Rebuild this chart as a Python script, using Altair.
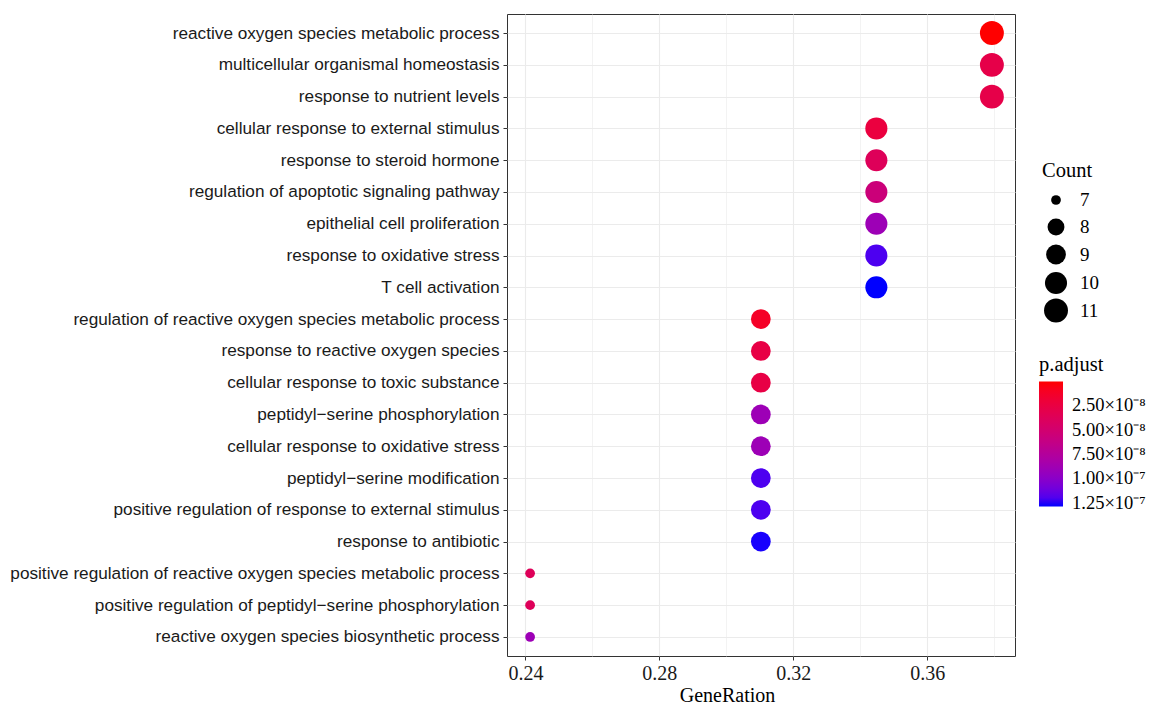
import altair as alt
import pandas as pd

terms = [
    "reactive oxygen species metabolic process",
    "multicellular organismal homeostasis",
    "response to nutrient levels",
    "cellular response to external stimulus",
    "response to steroid hormone",
    "regulation of apoptotic signaling pathway",
    "epithelial cell proliferation",
    "response to oxidative stress",
    "T cell activation",
    "regulation of reactive oxygen species metabolic process",
    "response to reactive oxygen species",
    "cellular response to toxic substance",
    "peptidyl\u2212serine phosphorylation",
    "cellular response to oxidative stress",
    "peptidyl\u2212serine modification",
    "positive regulation of response to external stimulus",
    "response to antibiotic",
    "positive regulation of reactive oxygen species metabolic process",
    "positive regulation of peptidyl\u2212serine phosphorylation",
    "reactive oxygen species biosynthetic process",
]
gene_ratio = [0.3793, 0.3793, 0.3793, 0.3448, 0.3448, 0.3448, 0.3448, 0.3448, 0.3448,
              0.3103, 0.3103, 0.3103, 0.3103, 0.3103, 0.3103, 0.3103, 0.3103,
              0.2414, 0.2414, 0.2414]
counts = [11, 11, 11, 10, 10, 10, 10, 10, 10, 9, 9, 9, 9, 9, 9, 9, 9, 7, 7, 7]
p_adjust = [4.0e-10, 2.9e-8, 2.9e-8, 2.4e-8, 3.8e-8, 5.6e-8, 9.0e-8, 1.21e-7, 1.29e-7,
            1.2e-8, 2.7e-8, 2.7e-8, 9.0e-8, 9.0e-8, 1.21e-7, 1.21e-7, 1.28e-7,
            3.8e-8, 3.8e-8, 9.0e-8]

x_ticks = [0.24, 0.26, 0.28, 0.30, 0.32, 0.34, 0.36, 0.38]
x_domain = [0.2345, 0.3862]
count_levels = [7, 8, 9, 10, 11]
count_areas = [95, 284, 391, 487, 573]
padj_ticks = [2.5e-8, 5.0e-8, 7.5e-8, 1.0e-7, 1.25e-7]
# listed high -> low so that the vertical colour bar runs red (low) at top to blue (high) at bottom
padj_domain = [1.29e-7, 4.0e-10]
padj_colors = ["#0000FF", "#FF0000"]

df = pd.DataFrame({
    "Description": terms,
    "GeneRatio": gene_ratio,
    "Count": counts,
    "padj": p_adjust,
})

minor_test = "round(datum.value * 100) % 4 == 2"

chart = (
    alt.Chart(df)
    .mark_circle(opacity=1)
    .encode(
        x=alt.X(
            "GeneRatio:Q",
            scale=alt.Scale(domain=x_domain, nice=False, zero=False),
            axis=alt.Axis(
                title="GeneRation",
                values=x_ticks,
                format=".2f",
                labelExpr=f"({minor_test}) ? '' : format(datum.value, '.2f')",
                tickOpacity={"condition": {"test": minor_test, "value": 0}, "value": 1},
                gridWidth={"condition": {"test": minor_test, "value": 0.6}, "value": 1.1},
                titlePadding=2,
                titleX=220,
                titleAlign="center",
                labelPadding=3,
            ),
        ),
        y=alt.Y(
            "Description:N",
            sort=terms,
            scale=alt.Scale(type="point", padding=0.6),
            axis=alt.Axis(
                title=None,
                labelFont="Liberation Sans",
                labelFontSize=17.2,
                labelColor="#1a1a1a",
                labelPadding=4,
                labelLimit=0,
            ),
        ),
        size=alt.Size(
            "Count:Q",
            scale=alt.Scale(domain=count_levels, range=count_areas),
            legend=alt.Legend(
                title="Count",
                values=count_levels,
                orient="none",
                legendX=535,
                legendY=147,
                symbolFillColor="black",
                symbolStrokeWidth=0,
                symbolOpacity=1,
                symbolType="circle",
                symbolOffset=2,
                gridAlign="all",
                rowPadding=3,
                labelOffset=12,
                titlePadding=9,
            ),
        ),
        color=alt.Color(
            "padj:Q",
            scale=alt.Scale(domain=padj_domain, range=padj_colors,
                            interpolate="lab", nice=False, zero=False),
            legend=alt.Legend(
                title="p.adjust",
                type="gradient",
                direction="vertical",
                orient="none",
                legendX=532,
                legendY=341,
                values=padj_ticks,
                gradientLength=125,
                gradientThickness=24,
                gradientStrokeWidth=0,
                labelOverlap=False,
                labelOffset=9,
                labelFontSize=18.5,
                titlePadding=6,
                labelExpr="datum.value < 9.9e-8 ? format(datum.value / 1e-8, '.2f') + '\u00d710\u207b\u2078' : format(datum.value / 1e-7, '.2f') + '\u00d710\u207b\u2077'",
            ),
        ),
    )
    .properties(width=508, height=642, padding={"left": 1, "top": 6, "right": 0, "bottom": 0})
    .configure_view(stroke="#333333", strokeWidth=1)
    .configure_axis(
        domain=False,
        grid=True,
        gridColor="#EBEBEB",
        tickColor="#333333",
        tickSize=4,
        labelFont="Liberation Serif",
        labelFontSize=20,
        labelColor="#1a1a1a",
        titleFont="Liberation Serif",
        titleFontSize=20,
        titleFontWeight="normal",
        titleColor="#000000",
    )
    .configure_legend(
        titleFont="Liberation Serif",
        titleFontSize=20.5,
        titleFontWeight="normal",
        titleColor="#000000",
        labelFont="Liberation Serif",
        labelFontSize=19,
        labelColor="#000000",
        padding=0,
    )
)

chart.save("out.html", embed_options={"renderer": "svg", "actions": False})
